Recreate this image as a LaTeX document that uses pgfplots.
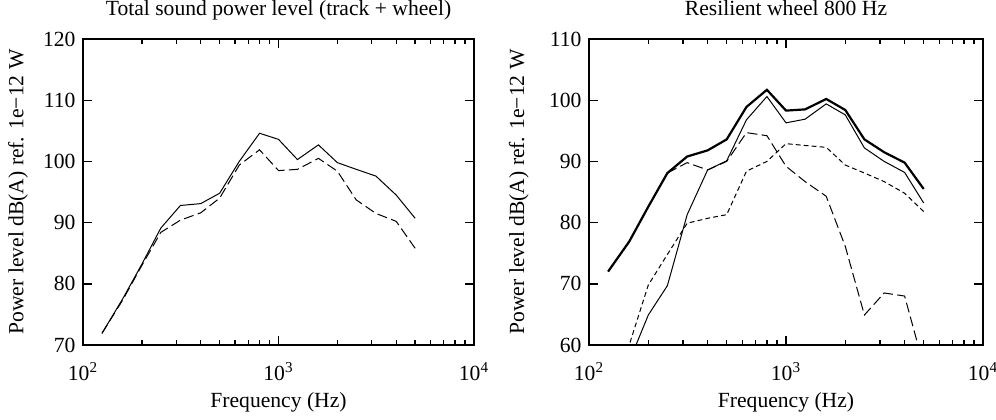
\documentclass[border=0pt]{standalone}
\usepackage{pgfplots}
\pgfplotsset{compat=1.18}
\usepackage{fontspec}
\setmainfont{Liberation Serif}

\tikzset{
  solidthin/.style={black, line width=0.5pt},
  solidthick/.style={black, line width=1.1pt},
  longdash/.style={black, line width=0.5pt, dash pattern=on 5pt off 2.2pt},
  shortdash/.style={black, line width=0.5pt, dash pattern=on 2.4pt off 1.6pt},
}
\pgfplotsset{
  every axis title/.style={at={(axis description cs:0.5,1)}, anchor=base, yshift=12pt},
}

\begin{document}
\fontsize{10.8}{13}\selectfont
\begin{tikzpicture}
\useasboundingbox (-41.5pt,-37pt) rectangle (456.5pt,172.5pt);

% total sound power, track + wheel
\begin{axis}[
    scale only axis,
    width=195.5pt, height=153pt,
    xmode=log,
    xmin=100, xmax=10000,
    xtick={100,1000,10000},
    xticklabels={10\textsuperscript{2},10\textsuperscript{3},10\textsuperscript{4}},
    xticklabel style={anchor=base, yshift=-17.5pt},
    ymin=70, ymax=120,
    ytick={70,80,...,120},
    yticklabel style={/pgf/number format/assume math mode=true},
    axis line style={line width=1pt},
    major tick length=4.5pt,
    minor tick length=2.5pt,
    tick style={black, line width=0.7pt},
    tick align=inside,
    xlabel={Frequency (Hz)},
    xlabel style={at={(axis description cs:0.5,0)}, anchor=base, yshift=-31pt},
    ylabel={Power level dB(A) ref. 1e−12 W},
    ylabel style={at={(axis description cs:-0.166,0.5)}, anchor=center},
    title={Total sound power level (track + wheel)},
]
  \addplot[solidthin] coordinates {
    (125,71.9) (160,77.6) (200,83.2) (250,89.1) (315,92.8) (400,93.1)
    (500,94.8) (630,100.0) (800,104.6) (1000,103.6) (1250,100.3) (1600,102.7)
    (2000,99.8) (2500,98.7) (3150,97.6) (4000,94.5) (5000,90.7)};
  \addplot[longdash] coordinates {
    (125,71.9) (160,77.4) (200,83.0) (250,88.4) (315,90.4) (400,91.6)
    (500,94.0) (630,99.4) (800,101.9) (1000,98.5) (1250,98.7) (1600,100.5)
    (2000,98.4) (2500,93.7) (3150,91.5) (4000,90.2) (5000,85.8)};
\end{axis}

% resilient wheel
\begin{axis}[
    xshift=253pt,
    scale only axis,
    width=197pt, height=153pt,
    xmode=log,
    xmin=100, xmax=10000,
    xtick={100,1000,10000},
    xticklabels={10\textsuperscript{2},10\textsuperscript{3},10\textsuperscript{4}},
    xticklabel style={anchor=base, yshift=-17.5pt},
    ymin=60, ymax=110,
    ytick={60,70,...,110},
    yticklabel style={/pgf/number format/assume math mode=true},
    axis line style={line width=1pt},
    major tick length=4.5pt,
    minor tick length=2.5pt,
    tick style={black, line width=0.7pt},
    tick align=inside,
    xlabel={Frequency (Hz)},
    xlabel style={at={(axis description cs:0.5,0)}, anchor=base, yshift=-31pt},
    ylabel={Power level dB(A) ref. 1e−12 W},
    ylabel style={at={(axis description cs:-0.178,0.5)}, anchor=center},
    title={Resilient wheel 800 Hz},
]
  \addplot[solidthick] coordinates {
    (125,72.0) (160,76.9) (200,82.6) (250,88.1) (315,90.8) (400,91.8)
    (500,93.6) (630,98.9) (800,101.7) (1000,98.3) (1250,98.5) (1600,100.2)
    (2000,98.4) (2500,93.6) (3150,91.5) (4000,89.8) (5000,85.5)};
  \addplot[solidthin] coordinates {
    (125,50.0) (160,57.3) (200,64.9) (250,69.7) (315,81.3) (400,88.6)
    (500,90.1) (630,96.8) (800,100.6) (1000,96.3) (1250,96.9) (1600,99.4)
    (2000,97.6) (2500,92.2) (3150,90.0) (4000,88.2) (5000,83.2)};
  \addplot[shortdash] coordinates {
    (125,52.0) (160,60.0) (200,69.8) (250,74.8) (315,79.9) (400,80.7)
    (500,81.3) (630,88.4) (800,90.0) (1000,92.9) (1250,92.6) (1600,92.3)
    (2000,89.4) (2500,88.1) (3150,86.7) (4000,84.8) (5000,81.8)};
  \addplot[longdash] coordinates {
    (125,72.0) (160,76.9) (200,82.6) (250,88.1) (315,89.8) (400,88.6)
    (500,90.0) (630,94.7) (800,94.2) (1000,89.2) (1250,86.7) (1600,84.3)
    (2000,76.1) (2500,64.9) (3150,68.5) (4000,68.0) (5000,56.6)};
\end{axis}
\end{tikzpicture}
\end{document}
